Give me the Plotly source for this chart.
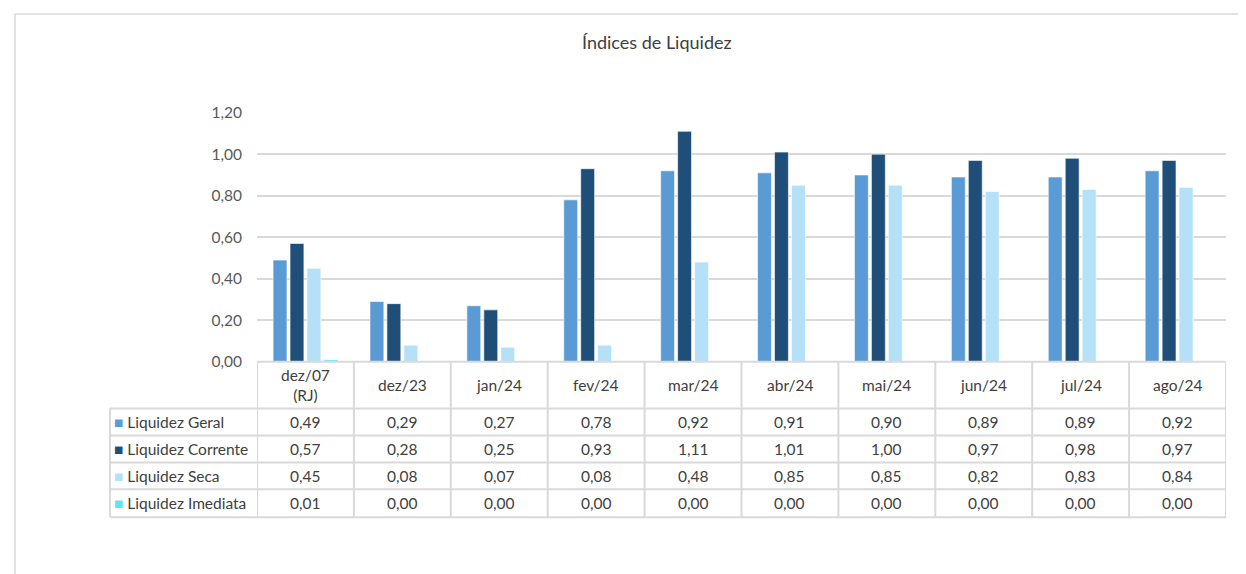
import plotly.graph_objects as go

categories = ["dez/07<br>(RJ)", "dez/23", "jan/24", "fev/24", "mar/24", "abr/24",
              "mai/24", "jun/24", "jul/24", "ago/24"]
series_names = ["Liquidez Geral", "Liquidez Corrente", "Liquidez Seca", "Liquidez Imediata"]
geral = [0.49, 0.29, 0.27, 0.78, 0.92, 0.91, 0.90, 0.89, 0.89, 0.92]
corrente = [0.57, 0.28, 0.25, 0.93, 1.11, 1.01, 1.00, 0.97, 0.98, 0.97]
seca = [0.45, 0.08, 0.07, 0.08, 0.48, 0.85, 0.85, 0.82, 0.83, 0.84]
imediata = [0.01, 0.00, 0.00, 0.00, 0.00, 0.00, 0.00, 0.00, 0.00, 0.00]
colors = ["#5B9BD5", "#1F4E79", "#B4E1F8", "#5CE6F5"]
y_ticks = [0, 0.2, 0.4, 0.6, 0.8, 1.0, 1.2]

W, H = 1246, 574
FONT = "Lato, 'Open Sans', sans-serif"
GRID = "#D9D9D9"
TXT = "#404040"
FS = 15.5

# screen-pixel -> paper mapping (calibrated to the rendered page)
def px_x(p):
    return (p - 8) / W

def px_y(p):
    return 1 - (p - 16) / 558

fig = go.Figure()
all_series = [geral, corrente, seca, imediata]
for name, vals, col in zip(series_names, all_series, colors):
    fig.add_trace(go.Bar(
        x=list(range(len(categories))), y=vals, name=name,
        marker=dict(color=col, line=dict(color="rgba(255,255,255,0.6)", width=1)),
        showlegend=False, hoverinfo="y+name",
    ))

def fmt(v):
    return f"{v:.2f}".replace(".", ",")

x0, x1 = px_x(257), px_x(1226)
y_top, y_bot = px_y(111), px_y(361)

fig.update_layout(
    width=W, height=H,
    margin=dict(l=0, r=0, t=0, b=0),
    paper_bgcolor="white", plot_bgcolor="white",
    barmode="group", bargap=0.3, bargroupgap=0.18,
    font=dict(family=FONT, size=FS, color=TXT),
    xaxis=dict(domain=[x0, x1], range=[-0.5, len(categories) - 0.5],
               showticklabels=False, showgrid=False, zeroline=False,
               showline=False),
    yaxis=dict(domain=[y_bot, y_top], range=[0, 1.2], tickvals=y_ticks,
               ticktext=[fmt(v) for v in y_ticks], showgrid=True,
               gridcolor=GRID, gridwidth=1.5, zeroline=False, showline=False,
               tickfont=dict(family=FONT, size=FS, color="#595959"),
               ticklabelstandoff=14),
)

fig.add_annotation(text="Índices de Liquidez", xref="paper", yref="paper",
                   x=px_x(657), y=px_y(40), xanchor="center", yanchor="middle",
                   showarrow=False, font=dict(family=FONT, size=18, color=TXT))

shapes = []
shapes.append(dict(type="line", xref="paper", yref="paper", x0=px_x(15), x1=1.01,
                   y0=px_y(12), y1=px_y(12), line=dict(color=GRID, width=1.5)))
shapes.append(dict(type="line", xref="paper", yref="paper", x0=px_x(15), x1=px_x(15),
                   y0=px_y(12), y1=-0.05, line=dict(color=GRID, width=1.5)))

row_lines = [361, 408, 435, 462, 489, 517]
tcol = dict(color=GRID, width=2)
shapes.append(dict(type="line", xref="paper", yref="paper", x0=x0, x1=x1,
                   y0=px_y(361), y1=px_y(361), line=tcol))
for r in row_lines[1:]:
    shapes.append(dict(type="line", xref="paper", yref="paper", x0=px_x(110), x1=x1,
                       y0=px_y(r), y1=px_y(r), line=tcol))
for i in range(len(categories) + 1):
    shapes.append(dict(type="line", xref="x", yref="paper", x0=i - 0.5, x1=i - 0.5,
                       y0=px_y(361), y1=px_y(517), line=tcol))
shapes.append(dict(type="line", xref="paper", yref="paper", x0=px_x(110), x1=px_x(110),
                   y0=px_y(408), y1=px_y(517), line=tcol))
fig.update_layout(shapes=shapes)

for i, c in enumerate(categories):
    fig.add_annotation(text=c, xref="x", yref="paper", x=i, y=px_y(384.5),
                       xanchor="center", yanchor="middle", showarrow=False,
                       font=dict(family=FONT, size=FS, color=TXT))

for r, (name, vals, col) in enumerate(zip(series_names, all_series, colors)):
    yc = px_y((row_lines[r + 1] + row_lines[r + 2]) / 2)
    fig.add_annotation(text=f'<span style="color:{col}">■</span> {name}',
                       xref="paper", yref="paper", x=px_x(112), y=yc,
                       xanchor="left", yanchor="middle", showarrow=False,
                       font=dict(family=FONT, size=FS, color=TXT))
    for i, v in enumerate(vals):
        fig.add_annotation(text=fmt(v), xref="x", yref="paper", x=i, y=yc,
                           xanchor="center", yanchor="middle", showarrow=False,
                           font=dict(family=FONT, size=FS, color=TXT))

fig.write_html("out.html")
